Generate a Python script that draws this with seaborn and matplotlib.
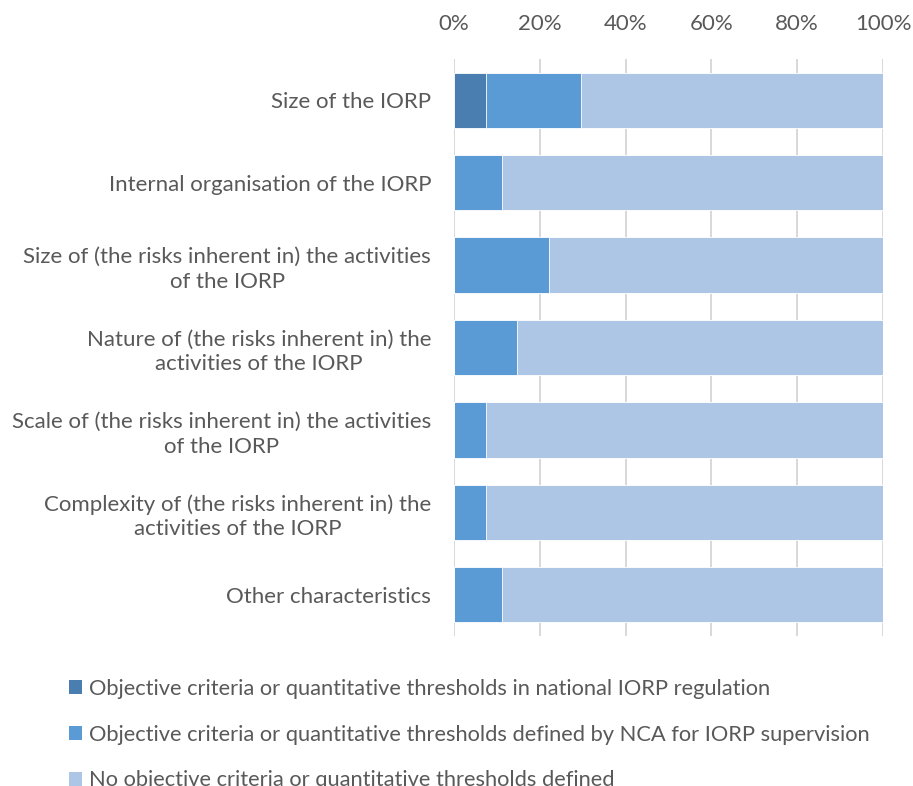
import numpy as np
import pandas as pd
import matplotlib
matplotlib.use("Agg")
import matplotlib.pyplot as plt
from matplotlib.patches import Patch
import seaborn as sns

categories = [
    "Size of the IORP",
    "Internal organisation of the IORP",
    "Size of (the risks inherent in) the activities\nof the IORP",
    "Nature of (the risks inherent in) the\nactivities of the IORP",
    "Scale of (the risks inherent in) the activities\nof the IORP",
    "Complexity of (the risks inherent in) the\nactivities of the IORP",
    "Other characteristics",
]
national_regulation = [7.4, 0.0, 0.0, 0.0, 0.0, 0.0, 0.0]
defined_by_nca = [22.2, 11.1, 22.2, 14.8, 7.4, 7.4, 11.1]
not_defined = [70.4, 88.9, 77.8, 85.2, 92.6, 92.6, 88.9]

series_names = [
    "Objective criteria or quantitative thresholds in national IORP regulation",
    "Objective criteria or quantitative thresholds defined by NCA for IORP supervision",
    "No objective criteria or quantitative thresholds defined",
]
colors = ["#4A7EB0", "#5B9BD5", "#ADC6E5"]
tick_values = [0, 20, 40, 60, 80, 100]

sns.set_style("white")
plt.rcParams["font.family"] = ["Lato", "DejaVu Sans"]

df = pd.DataFrame({
    "category": categories,
    "a": national_regulation,
    "b": defined_by_nca,
    "c": not_defined,
})
df["cum_a"] = df["a"]
df["cum_b"] = df["a"] + df["b"]
df["cum_c"] = df["a"] + df["b"] + df["c"]

fig = plt.figure(figsize=(9.13, 7.86), dpi=100)
ax = fig.add_axes([454 / 913, 1 - 636 / 786, (883 - 454) / 913, (636 - 59) / 786])

# stacked bars drawn back to front from cumulative totals
for col, color in zip(["cum_c", "cum_b", "cum_a"], colors[::-1]):
    sns.barplot(data=df, x=col, y="category", orient="h", color=color,
                width=0.67, edgecolor="white", linewidth=0.6, ax=ax,
                saturation=1)

ax.set_xlim(0, 100)
ax.set_xticks(tick_values)
ax.set_xticklabels([f"{v}%" for v in tick_values])
ax.xaxis.tick_top()
ax.xaxis.set_label_position("top")
ax.set_xlabel("")
ax.set_ylabel("")
ax.grid(axis="x", color="#D6D6D6", linewidth=1.3, zorder=0)
ax.set_axisbelow(True)
for s in ax.spines.values():
    s.set_visible(False)
ax.tick_params(axis="x", length=0, pad=18, labelsize=16, colors="#595959")
ax.tick_params(axis="y", length=0, pad=16.5, labelsize=16, colors="#595959")
for lab in ax.get_yticklabels():
    lab.set_horizontalalignment("right")
    lab.set_multialignment("center")
    lab.set_linespacing(1.3)

handles = [Patch(facecolor=c, edgecolor="none") for c in colors]
fig.legend(handles, series_names, loc="upper left",
           bbox_to_anchor=(60 / 913, 1 - 670 / 786), frameon=False,
           fontsize=15.75, labelcolor="#595959", handlelength=0.62,
           handleheight=0.62, handletextpad=0.3, labelspacing=1.18,
           borderaxespad=0)

fig.savefig("out.png", dpi=100)
